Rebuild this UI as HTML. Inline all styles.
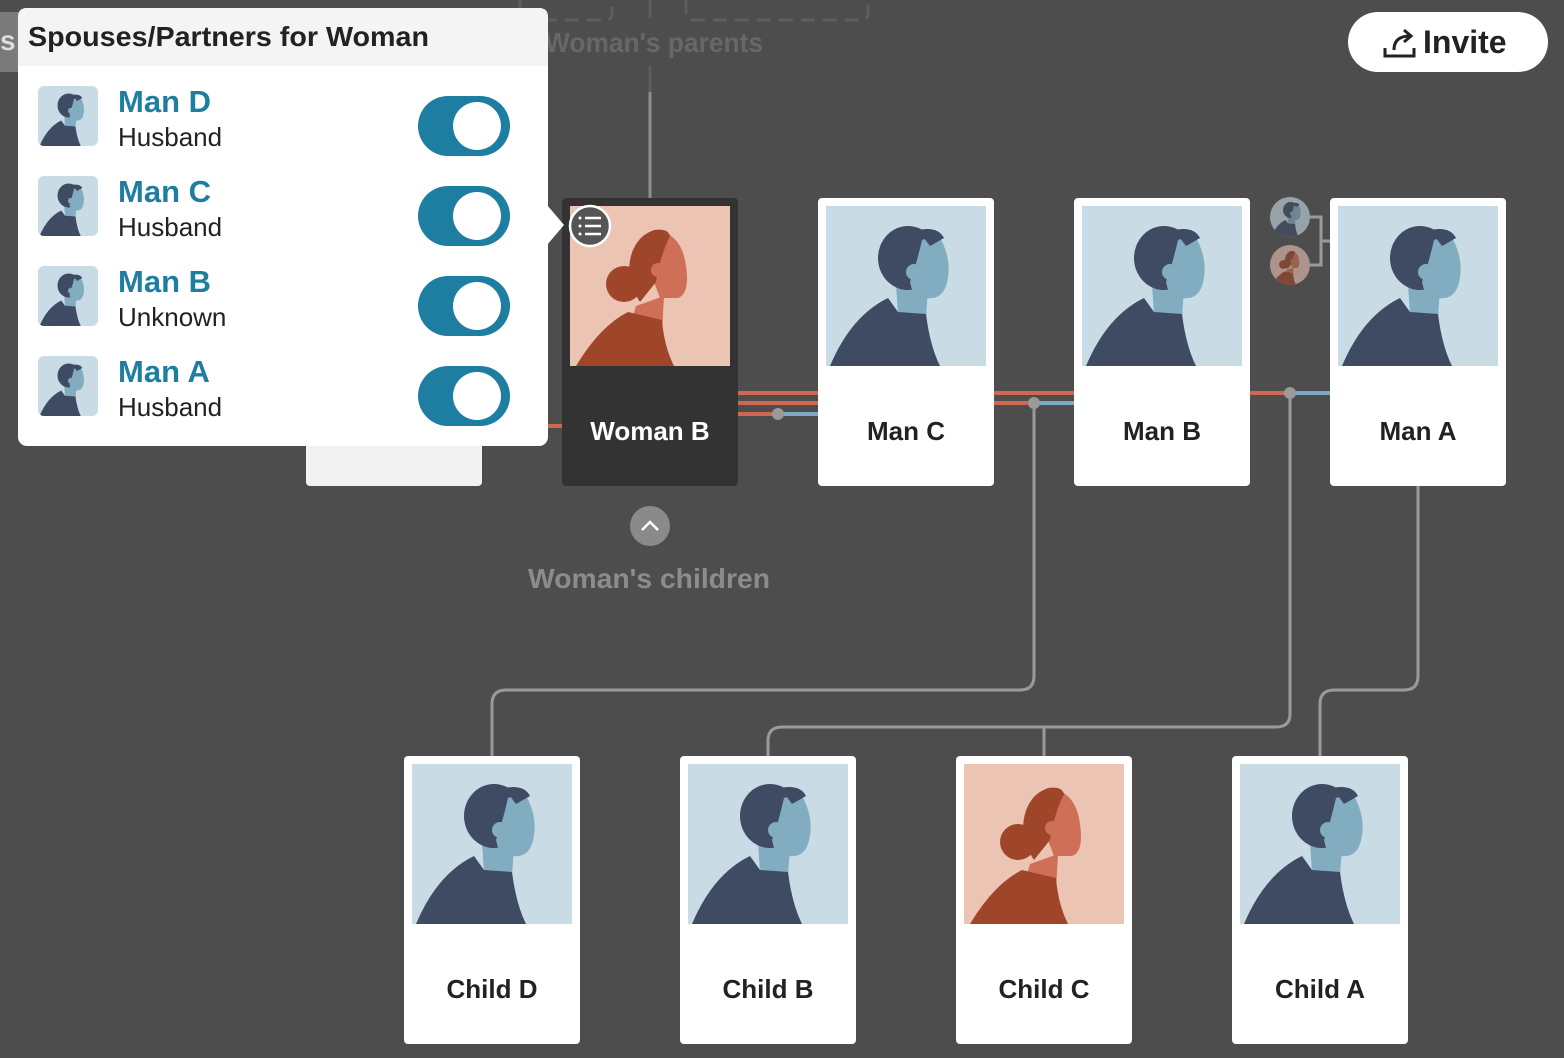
<!DOCTYPE html>
<html><head><meta charset="utf-8"><style>
html,body{margin:0;padding:0;width:1564px;height:1058px;overflow:hidden;background:#4d4d4d;font-family:"Liberation Sans",sans-serif;}
svg{position:absolute;left:0;top:0}
</style></head><body>
<svg width="1564" height="1058" viewBox="0 0 1564 1058" xmlns="http://www.w3.org/2000/svg" font-family="Liberation Sans, sans-serif">
<defs>
<symbol id="man" viewBox="0 0 160 160">
<rect width="160" height="160" fill="#c9dce5"/>
<path d="M70 78 L72 108 L100 112 L102 82 Z" fill="#82acc0"/>
<path d="M4 160 Q25 110 62 92 L72 106 L100 108 Q104 140 114 160 Z" fill="#3f4a63"/>
<ellipse cx="82" cy="52" rx="30" ry="32" fill="#3f4a63"/>
<path d="M96 34 L112 28 Q128 55 120 80 Q115 94 100 92 L88 92 L84 76 Q90 60 96 34 Z" fill="#82acc0"/>
<circle cx="88" cy="66" r="8" fill="#82acc0"/>
<path d="M92 24 Q112 20 118 32 L104 40 Z" fill="#3f4a63"/>
</symbol>
<symbol id="woman" viewBox="0 0 160 160">
<rect width="160" height="160" fill="#ecc4b4"/>
<path d="M66 100 L60 120 L92 126 L94 90 Z" fill="#cf6f58"/>
<path d="M6 160 Q30 120 58 106 L92 114 Q94 140 104 160 Z" fill="#9f4529"/>
<path d="M62 70 Q58 30 86 24 Q112 28 116 60 Q120 88 108 92 L90 92 L84 76 Z" fill="#cf6f58"/>
<path d="M60 80 Q54 36 84 24 Q98 22 100 30 Q90 50 86 76 L70 96 Z" fill="#9f4529"/>
<circle cx="54" cy="78" r="18" fill="#9f4529"/>
<circle cx="88" cy="64" r="7" fill="#cf6f58"/>
</symbol>
<clipPath id="c1"><circle cx="1290" cy="217" r="20"/></clipPath>
<clipPath id="c2"><circle cx="1290" cy="265" r="20"/></clipPath>
<clipPath id="rr"><rect x="0" y="0" width="60" height="60" rx="6"/></clipPath>
</defs>

<rect x="520" y="-20" width="92" height="40" rx="6" fill="none" stroke="#5e5e5e" stroke-width="3" stroke-dasharray="14 8"/>
<rect x="686" y="-20" width="182" height="40" rx="6" fill="none" stroke="#5e5e5e" stroke-width="3" stroke-dasharray="14 8"/>
<line x1="650" y1="0" x2="650" y2="18" stroke="#5e5e5e" stroke-width="3"/>
<text x="545" y="52" font-size="28" font-weight="bold" fill="#676767" textLength="218" lengthAdjust="spacingAndGlyphs">Woman's parents</text>
<line x1="650" y1="66" x2="650" y2="92" stroke="#5e5e5e" stroke-width="3"/>
<line x1="650" y1="92" x2="650" y2="198" stroke="#8e8e8e" stroke-width="3"/>

<g fill="none" stroke="#9a9a9a" stroke-width="3">
<path d="M1034 403 V676 Q1034 690 1020 690 H506 Q492 690 492 704 V756"/>
<path d="M1290 393 V714 Q1290 727 1276 727 H782 Q768 727 768 741 V756"/>
<path d="M1044 727 V756"/>
<path d="M1418 486 V676 Q1418 690 1404 690 H1334 Q1320 690 1320 704 V756"/>
<path d="M1310 217 H1321 V265 H1310 M1321 241 H1330"/>
</g>

<g stroke-width="4">
<line x1="482" y1="426" x2="562" y2="426" stroke="#d0674f"/>
<line x1="738" y1="393" x2="818" y2="393" stroke="#d0674f"/>
<line x1="738" y1="403" x2="818" y2="403" stroke="#d0674f"/>
<line x1="738" y1="414" x2="778" y2="414" stroke="#d0674f"/>
<line x1="778" y1="414" x2="818" y2="414" stroke="#7aaac4"/>
<line x1="994" y1="393" x2="1074" y2="393" stroke="#d0674f"/>
<line x1="994" y1="403" x2="1034" y2="403" stroke="#d0674f"/>
<line x1="1034" y1="403" x2="1074" y2="403" stroke="#7aaac4"/>
<line x1="1250" y1="393" x2="1290" y2="393" stroke="#d0674f"/>
<line x1="1290" y1="393" x2="1330" y2="393" stroke="#7aaac4"/>
</g>
<g fill="#9a9a9a"><circle cx="778" cy="414" r="6"/><circle cx="1034" cy="403" r="6"/><circle cx="1290" cy="393" r="6"/></g>

<rect x="306" y="420" width="176" height="66" rx="4" fill="#f2f2f2"/>

<rect x="562" y="198" width="176" height="288" rx="4" fill="#333333"/>
<use href="#woman" x="570" y="206" width="160" height="160"/>
<text x="650" y="440" font-size="26" font-weight="bold" fill="#fff" text-anchor="middle">Woman B</text>
<circle cx="590" cy="226" r="20" fill="#555" stroke="#fff" stroke-width="2.5"/>
<g stroke="#fff" stroke-width="2.5"><line x1="585" y1="218" x2="601" y2="218"/><line x1="585" y1="226" x2="601" y2="226"/><line x1="585" y1="234" x2="601" y2="234"/></g>
<g fill="#fff"><circle cx="580" cy="218" r="1.5"/><circle cx="580" cy="226" r="1.5"/><circle cx="580" cy="234" r="1.5"/></g>

<rect x="818" y="198" width="176" height="288" rx="4" fill="#fff"/><use href="#man" x="826" y="206" width="160" height="160"/>
<text x="906" y="440" font-size="26" font-weight="bold" fill="#222" text-anchor="middle">Man C</text>
<rect x="1074" y="198" width="176" height="288" rx="4" fill="#fff"/><use href="#man" x="1082" y="206" width="160" height="160"/>
<text x="1162" y="440" font-size="26" font-weight="bold" fill="#222" text-anchor="middle">Man B</text>
<rect x="1330" y="198" width="176" height="288" rx="4" fill="#fff"/><use href="#man" x="1338" y="206" width="160" height="160"/>
<text x="1418" y="440" font-size="26" font-weight="bold" fill="#222" text-anchor="middle">Man A</text>

<g opacity="0.6">
<g clip-path="url(#c1)"><use href="#man" x="1270" y="197" width="40" height="40"/></g>
<g clip-path="url(#c2)"><use href="#woman" x="1270" y="245" width="40" height="40"/></g>
</g>

<circle cx="650" cy="526" r="20" fill="#8a8a8a"/>
<path d="M642 530 L650 522 L658 530" fill="none" stroke="#fff" stroke-width="2.5"/>
<text x="649" y="588" font-size="28" font-weight="bold" fill="#8c8c8c" text-anchor="middle" textLength="242" lengthAdjust="spacingAndGlyphs">Woman's children</text>

<rect x="404" y="756" width="176" height="288" rx="4" fill="#fff"/><use href="#man" x="412" y="764" width="160" height="160"/>
<text x="492" y="998" font-size="26" font-weight="bold" fill="#222" text-anchor="middle">Child D</text>
<rect x="680" y="756" width="176" height="288" rx="4" fill="#fff"/><use href="#man" x="688" y="764" width="160" height="160"/>
<text x="768" y="998" font-size="26" font-weight="bold" fill="#222" text-anchor="middle">Child B</text>
<rect x="956" y="756" width="176" height="288" rx="4" fill="#fff"/><use href="#woman" x="964" y="764" width="160" height="160"/>
<text x="1044" y="998" font-size="26" font-weight="bold" fill="#222" text-anchor="middle">Child C</text>
<rect x="1232" y="756" width="176" height="288" rx="4" fill="#fff"/><use href="#man" x="1240" y="764" width="160" height="160"/>
<text x="1320" y="998" font-size="26" font-weight="bold" fill="#222" text-anchor="middle">Child A</text>

<rect x="1348" y="12" width="200" height="60" rx="30" fill="#fff"/>
<path d="M1385 48 V56 H1414 V48" fill="none" stroke="#222" stroke-width="3"/>
<path d="M1394 50 Q1394 36 1410 36 M1404 30 L1411 36 L1404 42" fill="none" stroke="#222" stroke-width="3"/>
<text x="1423" y="53" font-size="32" font-weight="bold" fill="#222">Invite</text>

<rect x="0" y="12" width="20" height="60" fill="#7a7a7a"/>
<text x="0" y="50" font-size="28" font-weight="bold" fill="#ddd">s</text>

<rect x="18" y="8" width="530" height="438" rx="9" fill="#fff"/>
<path d="M18 66 V17 Q18 8 27 8 H539 Q548 8 548 17 V66 Z" fill="#f4f4f4"/>
<path d="M547 205 L564 225 L547 245 Z" fill="#fff"/>
<text x="28" y="46" font-size="28" font-weight="bold" fill="#222" textLength="401" lengthAdjust="spacingAndGlyphs">Spouses/Partners for Woman</text>

<g transform="translate(38,86)" clip-path="url(#rr)"><use href="#man" width="60" height="60"/></g>
<text x="118" y="112" font-size="31" font-weight="bold" fill="#1e7ea1">Man D</text>
<text x="118" y="146" font-size="26" fill="#222">Husband</text>
<rect x="418" y="96" width="92" height="60" rx="30" fill="#1e7ea1"/><circle cx="477" cy="126" r="24" fill="#fff"/>

<g transform="translate(38,176)" clip-path="url(#rr)"><use href="#man" width="60" height="60"/></g>
<text x="118" y="202" font-size="31" font-weight="bold" fill="#1e7ea1">Man C</text>
<text x="118" y="236" font-size="26" fill="#222">Husband</text>
<rect x="418" y="186" width="92" height="60" rx="30" fill="#1e7ea1"/><circle cx="477" cy="216" r="24" fill="#fff"/>

<g transform="translate(38,266)" clip-path="url(#rr)"><use href="#man" width="60" height="60"/></g>
<text x="118" y="292" font-size="31" font-weight="bold" fill="#1e7ea1">Man B</text>
<text x="118" y="326" font-size="26" fill="#222">Unknown</text>
<rect x="418" y="276" width="92" height="60" rx="30" fill="#1e7ea1"/><circle cx="477" cy="306" r="24" fill="#fff"/>

<g transform="translate(38,356)" clip-path="url(#rr)"><use href="#man" width="60" height="60"/></g>
<text x="118" y="382" font-size="31" font-weight="bold" fill="#1e7ea1">Man A</text>
<text x="118" y="416" font-size="26" fill="#222">Husband</text>
<rect x="418" y="366" width="92" height="60" rx="30" fill="#1e7ea1"/><circle cx="477" cy="396" r="24" fill="#fff"/>
</svg>
</body></html>
